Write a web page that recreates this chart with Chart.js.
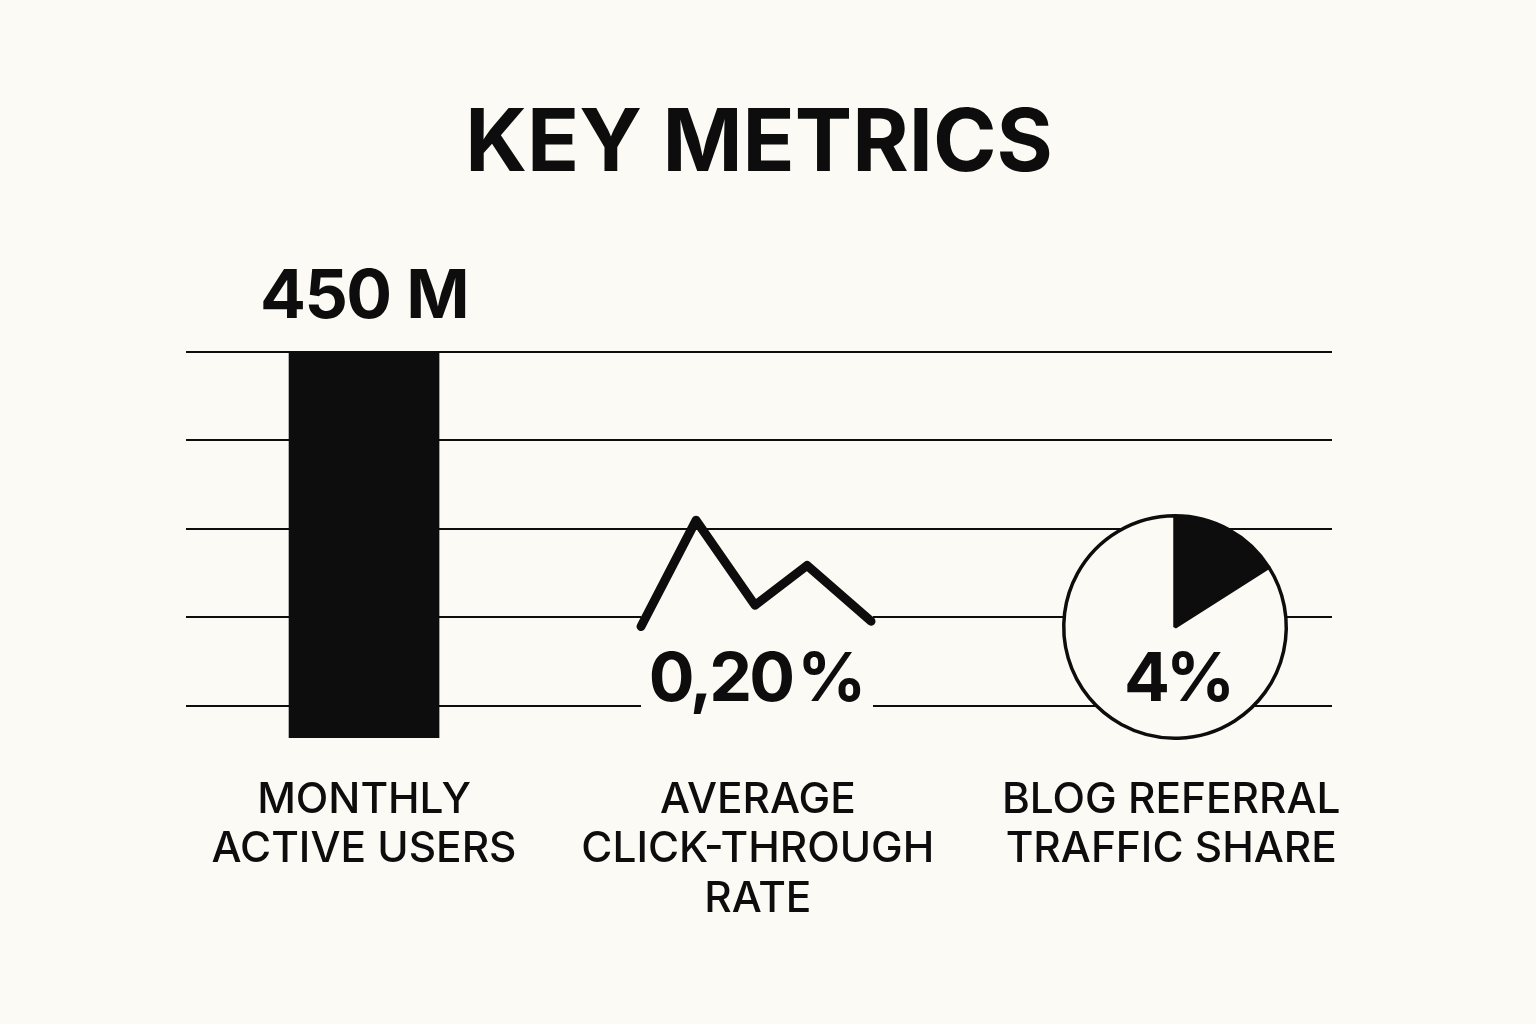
<!DOCTYPE html>
<html>
<head>
<meta charset="utf-8">
<title>Key Metrics</title>
<script src="https://cdn.jsdelivr.net/npm/chart.js@4"></script>
<style>
  html, body { margin: 0; padding: 0; background: #fcfaf5; }
  #page { position: relative; width: 1536px; height: 1024px; overflow: hidden; }
  canvas { position: absolute; display: block; }
  #mainChart { left: 0; top: 0; }
  #shareChart { left: 1055px; top: 507px; }
</style>
</head>
<body>
<div id="page">
  <canvas id="mainChart" width="1536" height="1024"></canvas>
  <canvas id="shareChart" width="240" height="240"></canvas>
</div>
<script>
let titleText = "KEY METRICS";
let categories = [
  ["MONTHLY", "ACTIVE USERS"],
  ["AVERAGE", "CLICK-THROUGH", "RATE"],
  ["BLOG REFERRAL", "TRAFFIC SHARE"],
];

let usersValue = 450;
let usersLabel = "450 M";

let ctrSteps = [0, 0.957, 1.983, 2.887, 4];
let ctrValues = [0.18, 0.42, 0.228, 0.318, 0.192];
let ctrLabel = "0,20 %";

let shareValues = [16, 84];
let shareLabel = "4 %";

let ink = "#0d0d0d";
let paper = "#fcfaf5";
let fontName = "Inter";

function drawValue(ctx, text, x, y, spacing, wordGap) {
  ctx.save();
  ctx.font = "700 68px " + fontName;
  ctx.fillStyle = ink;
  ctx.textAlign = "center";
  ctx.textBaseline = "alphabetic";
  ctx.letterSpacing = spacing + "px";
  ctx.wordSpacing = wordGap + "px";
  ctx.fillText(text, x, y);
  ctx.restore();
}

// knocks the gridlines out behind the click-through label, then writes the values
let mainLabels = {
  id: "mainLabels",
  beforeDatasetsDraw(chart) {
    let xs = chart.scales.xLine;
    let ys = chart.scales.yLine;
    let left = xs.getPixelForValue(ctrSteps[0]);
    let right = xs.getPixelForValue(ctrSteps[4]) + 2;
    let top = ys.getPixelForValue(0.25);
    let bottom = ys.getPixelForValue(-0.05);
    chart.ctx.fillStyle = paper;
    chart.ctx.fillRect(left, top, right - left, bottom - top);
  },
  afterDatasetsDraw(chart) {
    let bar = chart.getDatasetMeta(0).data[0];
    drawValue(chart.ctx, usersLabel, bar.x, 318, -1.5, 1);
    let xs = chart.scales.xLine;
    drawValue(chart.ctx, ctrLabel, xs.getPixelForValue(2), 701, -3, -8);
  },
};

let mainChart = new Chart(document.getElementById("mainChart"), {
  data: {
    datasets: [
      {
        type: "bar",
        data: [{ x: 0, y: usersValue }],
        backgroundColor: ink,
        barThickness: 150,
        grouped: false,
        xAxisID: "x",
        yAxisID: "y",
      },
      {
        type: "line",
        data: ctrSteps.map((s, i) => ({ x: s, y: ctrValues[i] })),
        borderColor: ink,
        borderWidth: 9,
        borderCapStyle: "round",
        borderJoinStyle: "round",
        pointRadius: 0,
        tension: 0,
        xAxisID: "xLine",
        yAxisID: "yLine",
      },
    ],
  },
  options: {
    responsive: false,
    animation: false,
    layout: { padding: { left: 186, right: 204, top: 94, bottom: 0 } },
    plugins: {
      legend: { display: false },
      tooltip: { enabled: false },
      title: {
        display: true,
        text: titleText,
        color: ink,
        font: { family: fontName, size: 86, weight: "700", lineHeight: 1.2 },
        padding: { top: 0, bottom: 155 },
      },
    },
    scales: {
      x: {
        type: "linear",
        position: "bottom",
        min: -0.453,
        max: 2.463,
        offset: false,
        grid: { display: false },
        border: { display: false },
        afterBuildTicks(axis) {
          axis.ticks = [{ value: 0 }, { value: 1.002 }, { value: 2.054 }];
        },
        afterFit(axis) {
          axis.height = 286;
        },
        ticks: {
          autoSkip: false,
          maxRotation: 0,
          padding: 29,
          color: ink,
          font: { family: fontName, size: 42.4, weight: "500", lineHeight: 1.17 },
          callback: (value, index) => categories[index],
        },
      },
      y: {
        type: "linear",
        min: 0,
        max: 450,
        afterBuildTicks(axis) {
          axis.ticks = [37, 141, 244, 348, 450].map((v) => ({ value: v }));
        },
        afterFit(axis) {
          axis.width = 0;
        },
        grid: { color: ink, lineWidth: 2, drawTicks: false },
        border: { display: false },
        ticks: { display: false },
      },
      xLine: { type: "linear", display: false, min: -7.913, max: 12.017 },
      yLine: { type: "linear", display: false, min: -0.072, max: 0.8 },
    },
  },
  plugins: [mainLabels],
});

let shareText = {
  id: "shareText",
  afterDatasetsDraw(chart) {
    drawValue(chart.ctx, shareLabel, chart.width / 2 + 4, 194, -1, -18);
  },
};

let shareChart = new Chart(document.getElementById("shareChart"), {
  type: "pie",
  data: {
    datasets: [
      {
        data: shareValues,
        backgroundColor: [ink, paper],
        borderColor: ink,
        borderWidth: 3.5,
      },
    ],
  },
  options: {
    responsive: false,
    animation: false,
    layout: { padding: 7 },
    plugins: { legend: { display: false }, tooltip: { enabled: false } },
  },
  plugins: [shareText],
});
</script>
</body>
</html>
